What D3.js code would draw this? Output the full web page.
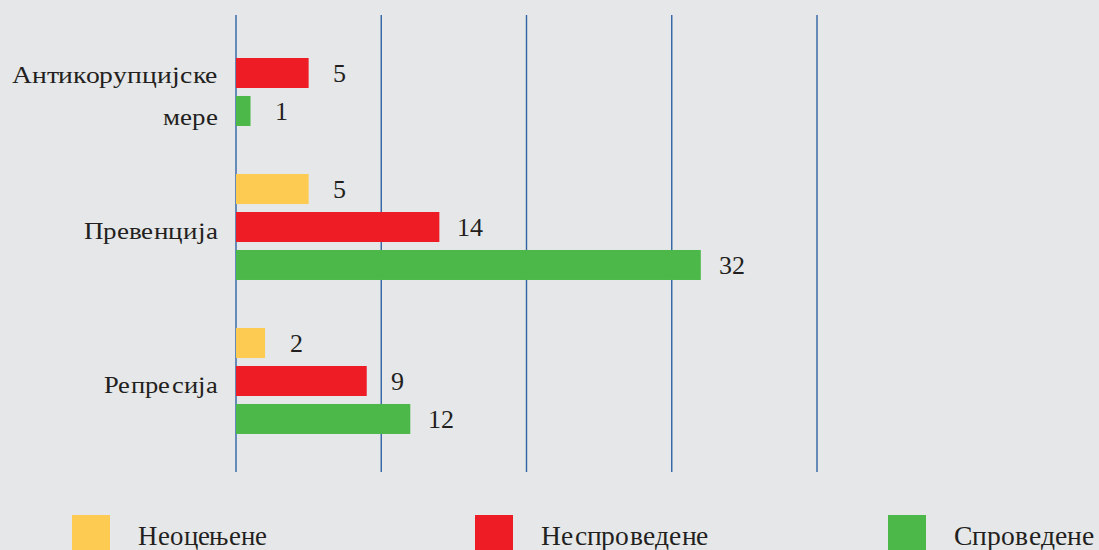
<!DOCTYPE html>
<html>
<head>
<meta charset="utf-8">
<script src="https://cdn.jsdelivr.net/npm/d3@7"></script>
<style>
  @font-face { font-family: "ChartSerif"; src: local("Liberation Serif"), local("LiberationSerif"), local("Tinos"), local("Times New Roman"); }
  html, body { margin: 0; padding: 0; background: #e6e7e9; }
  svg text { font-family: "ChartSerif", "Liberation Serif", "Times New Roman", serif; }
</style>
</head>
<body>
<script>
// categories (label lines) and series
const categories = ["Антикорупцијске мере", "Превенција", "Репресија"]
const categoryLines = [["Антикорупцијске", "мере"], ["Превенција"], ["Репресија"]]
const seriesNames = ["Неоцењене", "Неспроведене", "Спроведене"]
const seriesColors = ["#fecb52", "#ee1c25", "#4cb84a"]

// values per series, in category order (null = no bar)
const neocenjene = [null, 5, 2]
const nesprovedene = [5, 14, 9]
const sprovedene = [1, 32, 12]

const xTicks = [0, 10, 20, 30, 40]

const width = 1099, height = 550
const x0 = 236, x1 = 817

// measured widths of the (wide-set) label text in the original
const lineWidths = { "Антикорупцијске": 206, "мере": 55, "Превенција": 134, "Репресија": 114 }
const legendW = [129, 167, 140]

const values = [neocenjene, nesprovedene, sprovedene]
const rows = []
categories.forEach((c, ci) => {
  seriesNames.forEach((s, si) => {
    if (values[si][ci] != null) rows.push({ cat: c, series: s, value: values[si][ci], color: seriesColors[si] })
  })
})

const svg = d3.select("body").append("svg")
  .attr("width", width)
  .attr("height", height)
  .style("display", "block")

svg.append("rect").attr("width", width).attr("height", height).attr("fill", "#e6e7e9")

const x = d3.scaleLinear().domain([0, 40]).range([x0, x1])

const y = d3.scaleBand()
  .domain(categories)
  .range([-4, 458])
  .paddingInner(0.312)
  .paddingOuter(0.156)

const ySub = d3.scaleBand()
  .domain(seriesNames)
  .range([0, y.bandwidth()])
  .paddingInner(0.21)

// grid lines
svg.append("g")
  .selectAll("line")
  .data(xTicks)
  .join("line")
  .attr("x1", d => x(d))
  .attr("x2", d => x(d))
  .attr("y1", 15)
  .attr("y2", 472)
  .attr("stroke", "#2f63a3")
  .attr("stroke-width", 1.4)

// bars
svg.append("g")
  .selectAll("rect")
  .data(rows)
  .join("rect")
  .attr("x", x(0))
  .attr("y", d => y(d.cat) + ySub(d.series))
  .attr("width", d => x(d.value) - x(0))
  .attr("height", ySub.bandwidth())
  .attr("fill", d => d.color)

// value labels
svg.append("g")
  .selectAll("text")
  .data(rows)
  .join("text")
  .attr("x", d => x(d.value) + 31)
  .attr("y", d => y(d.cat) + ySub(d.series) + ySub.bandwidth() / 2)
  .attr("dy", "0.36em")
  .attr("text-anchor", "middle")
  .attr("font-size", 26)
  .attr("fill", "#231f20")
  .text(d => d.value)

// category labels, centered on the bars present in each group
const catLabels = svg.append("g")
categories.forEach((c, ci) => {
  const present = rows.filter(r => r.cat === c)
  const centers = present.map(r => y(c) + ySub(r.series) + ySub.bandwidth() / 2)
  const mid = d3.mean(centers)
  const lines = categoryLines[ci]
  lines.forEach((t, li) => {
    catLabels.append("text")
      .attr("x", 218)
      .attr("y", mid + (li - (lines.length - 1) / 2) * 42)
      .attr("dy", "0.5em")
      .attr("text-anchor", "end")
      .attr("font-size", 24)
      .attr("textLength", lineWidths[t])
      .attr("lengthAdjust", "spacingAndGlyphs")
      .attr("fill", "#231f20")
      .text(t)
  })
})

// legend
const legendX = [72, 475, 888]
const legend = svg.append("g")
  .selectAll("g")
  .data(seriesNames)
  .join("g")
  .attr("transform", (d, i) => `translate(${legendX[i]}, 515)`)

legend.append("rect")
  .attr("width", 38)
  .attr("height", 36)
  .attr("fill", (d, i) => seriesColors[i])

legend.append("text")
  .attr("x", 66)
  .attr("y", 30)
  .attr("font-size", 27)
  .attr("textLength", (d, i) => legendW[i])
  .attr("lengthAdjust", "spacingAndGlyphs")
  .attr("fill", "#231f20")
  .text(d => d)
</script>
</body>
</html>
